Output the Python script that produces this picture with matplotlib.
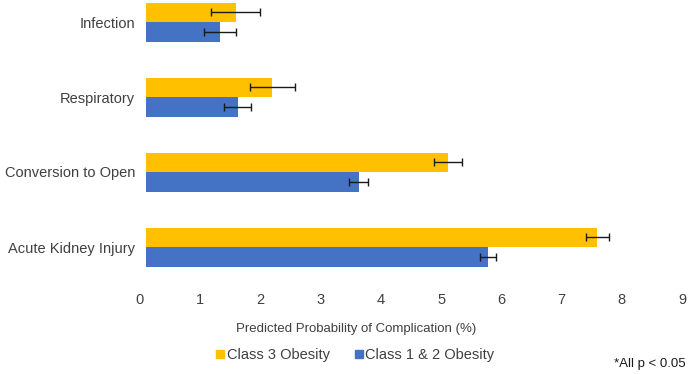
import matplotlib
matplotlib.use("Agg")
import matplotlib.pyplot as plt
import matplotlib.transforms as mtransforms
from matplotlib.lines import Line2D
import numpy as np

categories = ["Acute Kidney Injury", "Conversion to Open", "Respiratory", "Infection"]
class3 = [7.49, 5.02, 2.10, 1.49]
class3_err = [0.19, 0.23, 0.37, 0.41]
class12 = [5.68, 3.53, 1.52, 1.23]
class12_err = [0.13, 0.16, 0.23, 0.26]
series_names = ["Class 3 Obesity", "Class 1 & 2 Obesity"]
xticks = list(range(0, 10))

plt.rcParams['font.family'] = ['Liberation Sans', 'DejaVu Sans']
TXT = '#404040'
YEL = '#FFC000'
BLU = '#4472C4'

fig = plt.figure(figsize=(6.89, 3.74), dpi=100)
ax = fig.add_axes([146/689, 1 - 284.5/374, 542/689, 284.5/374])

y = np.arange(len(categories))
h = 0.26
ax.barh(y + h/2, class3, height=h, color=YEL, xerr=class3_err,
        error_kw=dict(ecolor='#1a1a1a', elinewidth=1, capsize=3, capthick=1))
ax.barh(y - h/2, class12, height=h, color=BLU, xerr=class12_err,
        error_kw=dict(ecolor='#1a1a1a', elinewidth=1, capsize=3, capthick=1))

ax.set_xlim(0, 9)
ax.set_ylim(-0.5, 247/75)
ax.set_xticks(xticks)
ax.set_xticklabels([str(t) for t in xticks])
ax.set_yticks(y)
ax.set_yticklabels(categories)
ax.tick_params(axis='both', length=0, labelsize=10.5, labelcolor=TXT)
ax.tick_params(axis='x', pad=6)
ax.tick_params(axis='y', pad=8)
for s in ax.spines.values():
    s.set_visible(False)

offset = mtransforms.ScaledTranslation(-6/100, 0, fig.dpi_scale_trans)
for lab in ax.get_xticklabels():
    lab.set_transform(lab.get_transform() + offset)

fig.text(356/689, 1 - 329/374, "Predicted Probability of Complication (%)",
         ha='center', va='center', fontsize=9.5, color=TXT)

handles = [Line2D([], [], marker='s', linestyle='none', color=YEL, markersize=6),
           Line2D([], [], marker='s', linestyle='none', color=BLU, markersize=6)]
fig.legend(handles, series_names, loc='center', bbox_to_anchor=(355/689, 1 - 355/374),
           ncol=2, frameon=False, fontsize=10.5, labelcolor=TXT,
           handlelength=0.6, handletextpad=0.15, columnspacing=1.7)

fig.text(686/689, 1 - 364/374, "*All p < 0.05", ha='right', va='center',
         fontsize=9.5, color='#1a1a1a')

fig.savefig("out.png", dpi=100)
